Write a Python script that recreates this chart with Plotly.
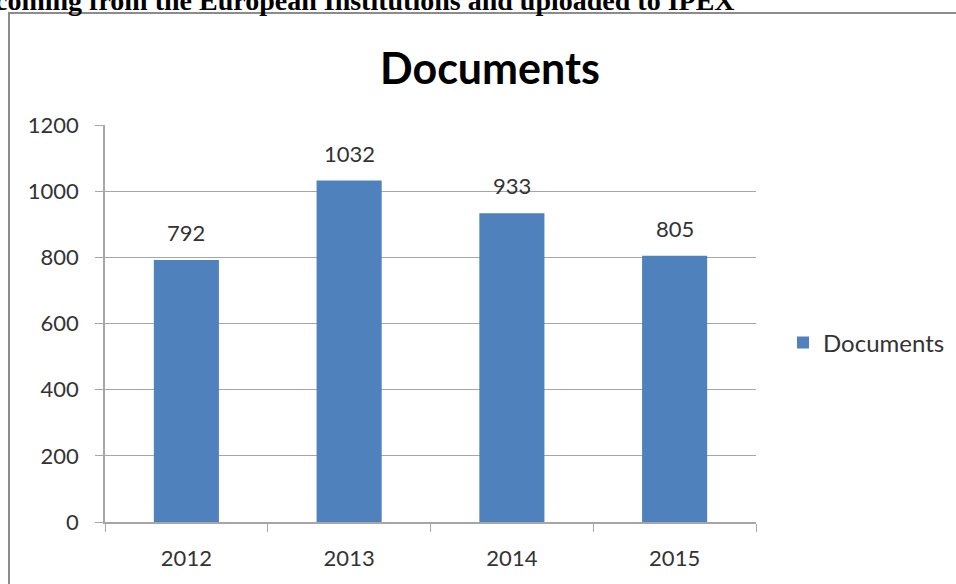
import plotly.graph_objects as go

years = ["2012", "2013", "2014", "2015"]
documents = [792, 1032, 933, 805]
series_name = "Documents"
chart_title = "Documents"
header_text = "coming from the European Institutions and uploaded to IPEX"

W, H = 956, 584
L, R, T, B = 105, 956 - 756, 125, 584 - 522
pw, ph = W - L - R, H - T - B

def px(x):
    return (x - L) / pw

def py(y):
    return (H - B - y) / ph

font_fam = "Lato, Carlito, Calibri, sans-serif"
txt_col = "#333333"
bar_col = "#4F81BD"
grid_col = "#a6a6a6"

fig = go.Figure()
fig.add_trace(go.Bar(
    x=years, y=documents, name=series_name,
    marker=dict(color=bar_col, line=dict(width=0)),
    showlegend=True,
))

for i, v in enumerate(documents):
    fig.add_annotation(
        x=i, y=v, xref="x", yref="y", text=str(v), showarrow=False,
        yanchor="bottom", yshift=12,
        font=dict(family=font_fam, size=22, color=txt_col),
    )

# header text (cut at top)
fig.add_annotation(
    x=px(-7), y=py(7), xref="paper", yref="paper", xanchor="left", yanchor="bottom",
    text="<b>" + header_text + "</b>", showarrow=False, yshift=-11,
    font=dict(family="Liberation Serif, DejaVu Serif, serif", size=28, color="#000000"),
)
# chart title
fig.add_annotation(
    x=px(490), y=py(68), xref="paper", yref="paper", xanchor="center", yanchor="middle",
    text="<b>" + chart_title + "</b>", showarrow=False,
    font=dict(family=font_fam, size=43, color="#000000"),
)
# frame
fig.add_shape(type="rect", xref="paper", yref="paper",
              x0=px(9), y0=py(620), x1=px(1000), y1=py(13),
              line=dict(color="#8c8c8c", width=2), fillcolor="rgba(0,0,0,0)", layer="below")

fig.update_layout(
    width=W, height=H,
    margin=dict(l=L, r=R, t=T, b=B, autoexpand=False),
    paper_bgcolor="white", plot_bgcolor="white",
    bargap=0.6,
    font=dict(family=font_fam, size=22, color=txt_col),
    legend=dict(x=px(783), y=py(343), xanchor="left", yanchor="middle",
                font=dict(size=24, color=txt_col), itemwidth=30, bgcolor="rgba(0,0,0,0)"),
    xaxis=dict(type="category", showline=True, linecolor=grid_col, linewidth=1.5,
               ticks="outside", ticklen=8, tickcolor=grid_col, tickson="boundaries",
               showgrid=False, tickfont=dict(size=22, color=txt_col), ticklabelstandoff=16),
    yaxis=dict(range=[0, 1200], dtick=200, showline=True, linecolor=grid_col, linewidth=1.5,
               ticks="outside", ticklen=8, tickcolor=grid_col, showgrid=True,
               gridcolor=grid_col, gridwidth=1.2, zeroline=False,
               tickfont=dict(size=22, color=txt_col), ticklabelstandoff=12),
)

fig.write_html("out.html", post_script="document.body.style.margin='0';",
               config={"displayModeBar": False})
